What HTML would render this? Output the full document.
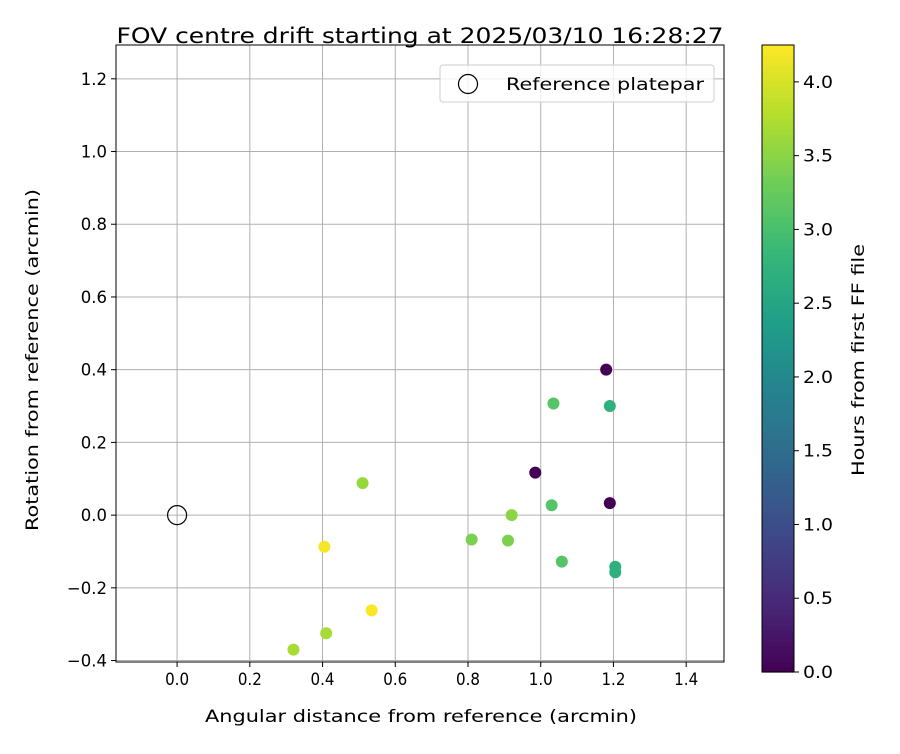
<!DOCTYPE html>
<html><head><meta charset="utf-8"><style>
body{margin:0;background:#fff;font-family:"DejaVu Sans","Liberation Sans",sans-serif;}
svg text{font-family:"DejaVu Sans","Liberation Sans",sans-serif;fill:#000;}
</style></head><body>
<svg id="c" width="900" height="750"></svg>
<script>
const xs=[1.18,1.035,1.19,0.985,1.19,0.51,0.92,1.03,0.405,0.81,0.91,1.058,1.205,1.205,0.535,0.41,0.32];
const ys=[0.40,0.307,0.30,0.117,0.033,0.088,0.0,0.027,-0.087,-0.067,-0.07,-0.128,-0.142,-0.157,-0.262,-0.325,-0.37];
const hours=[0.0,3.1,2.7,0.0,0.0,3.6,3.5,3.1,4.2,3.4,3.4,3.1,2.7,2.7,4.25,3.7,3.7];
const xTicks=[0.0,0.2,0.4,0.6,0.8,1.0,1.2,1.4];
const yTicks=[-0.4,-0.2,0.0,0.2,0.4,0.6,0.8,1.0,1.2];
const cTicks=[0.0,0.5,1.0,1.5,2.0,2.5,3.0,3.5,4.0];
const L=116,R=724,T=45,B=662,xmin=-0.168,xmax=1.504,ymin=-0.404,ymax=1.293;
const sx=v=>L+(v-xmin)/(xmax-xmin)*(R-L);
const sy=v=>B-(v-ymin)/(ymax-ymin)*(B-T);
const CT=45,CB=672,CX=762,CW=32,cmax=4.25;
const cy=v=>CB-v/cmax*(CB-CT);
const vir=[[68,1,84],[72,40,120],[62,74,137],[49,104,142],[38,130,142],[31,158,137],[53,183,121],[109,205,89],[180,222,44],[253,231,37]];
function col(v){let t=Math.max(0,Math.min(1,v/cmax))*(vir.length-1);let i=Math.min(Math.floor(t),vir.length-2),f=t-i;const a=vir[i],b=vir[i+1];return `rgb(${a.map((c,k)=>Math.round(c+(b[k]-c)*f)).join(',')})`;}
const svg=document.getElementById('c');const NS='http://www.w3.org/2000/svg';
function el(tag,attrs,txt){const e=document.createElementNS(NS,tag);for(const k in attrs)e.setAttribute(k,attrs[k]);if(txt!==undefined)e.textContent=txt;svg.appendChild(e);return e;}
let e;
xTicks.forEach(v=>{const x=sx(v);
e=el('line',{x1:x,x2:x,y1:T,y2:B,stroke:'#b0b0b0','stroke-width':1});
e=el('line',{x1:x,x2:x,y1:B,y2:B+5,stroke:'#000'});
e=el('text',{x:x,y:B+23,'text-anchor':'middle','font-size':16.5,textLength:24,lengthAdjust:'spacingAndGlyphs'},v.toFixed(1));});
yTicks.forEach(v=>{const y=sy(v);
e=el('line',{x1:L,x2:R,y1:y,y2:y,stroke:'#b0b0b0','stroke-width':1});
e=el('line',{x1:L-5,x2:L,y1:y,y2:y,stroke:'#000'});
e=el('text',{x:L-9,y:y+6,'text-anchor':'end','font-size':16.5},(v<0?'\u2212':'')+Math.abs(v).toFixed(1));});
e=el('circle',{cx:sx(0),cy:sy(0),r:9.5,fill:'none',stroke:'#000','stroke-width':1.2});
xs.forEach((v,i)=>{e=el('circle',{cx:sx(v),cy:sy(ys[i]),r:6,fill:col(hours[i])});});
e=el('rect',{x:L,y:T,width:R-L,height:B-T,fill:'none',stroke:'#000','stroke-width':1});
e=el('text',{x:420,y:43,'text-anchor':'middle','font-size':21,textLength:607,lengthAdjust:'spacingAndGlyphs'},'FOV centre drift starting at 2025/03/10 16:28:27');
e=el('text',{x:421,y:722,'text-anchor':'middle','font-size':17,textLength:432,lengthAdjust:'spacingAndGlyphs'},'Angular distance from reference (arcmin)');
e=el('text',{x:38,y:360,'text-anchor':'middle','font-size':17,textLength:342,lengthAdjust:'spacingAndGlyphs',transform:'rotate(-90 38 360)'},'Rotation from reference (arcmin)');
e=el('rect',{x:440,y:65,width:274,height:37,rx:3,fill:'#fff','fill-opacity':0.8,stroke:'#ccc'});
e=el('circle',{cx:468,cy:84,r:9.5,fill:'none',stroke:'#000','stroke-width':1.2});
e=el('text',{x:506,y:90,'font-size':16.5,textLength:198,lengthAdjust:'spacingAndGlyphs'},'Reference platepar');
const N=120;for(let i=0;i<N;i++){const v0=i/N*cmax,v1=(i+1)/N*cmax;
e=el('rect',{x:CX,y:cy(v1),width:CW,height:cy(v0)-cy(v1)+0.6,fill:col((v0+v1)/2)});}
e=el('rect',{x:CX,y:CT,width:CW,height:CB-CT,fill:'none',stroke:'#000'});
cTicks.forEach(v=>{const y=cy(v);
e=el('line',{x1:CX+CW,x2:CX+CW+5,y1:y,y2:y,stroke:'#000'});
e=el('text',{x:CX+CW+9,y:y+6,'font-size':16.5,textLength:30,lengthAdjust:'spacingAndGlyphs'},v.toFixed(1));});
e=el('text',{x:864,y:360,'text-anchor':'middle','font-size':17,textLength:232,lengthAdjust:'spacingAndGlyphs',transform:'rotate(-90 864 360)'},'Hours from first FF file');
</script></body></html>
